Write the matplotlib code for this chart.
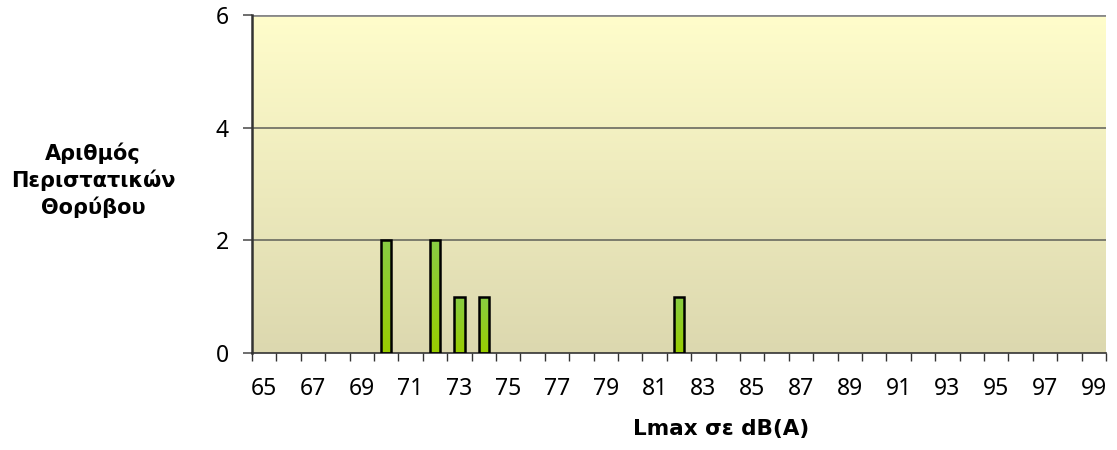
import matplotlib
matplotlib.use("Agg")
import matplotlib.pyplot as plt
import numpy as np
from matplotlib.colors import LinearSegmentedColormap

categories = list(range(65, 100))
counts_at = {70: 2, 72: 2, 73: 1, 74: 1, 82: 1}
values = [counts_at.get(c, 0) for c in categories]
xtick_labels = [str(c) for c in categories]
yticks = [0, 2, 4, 6]

plt.rcParams['font.family'] = ['DejaVu Sans']
tick_font = 'Noto Sans'

fig = plt.figure(figsize=(11.17, 4.5), dpi=100)
ax = fig.add_axes([252/1117, 1-353/450, (1106-252)/1117, (353-15)/450])

n = len(categories)
x = np.arange(n)

# background gradient
bg = LinearSegmentedColormap.from_list('bg', ['#DCD8AF', '#FFFDCB'])
grad = np.linspace(0, 1, 256).reshape(-1, 1)
ax.imshow(grad, aspect='auto', cmap=bg, origin='lower',
          extent=[-0.5, n - 0.5, 0, 6], zorder=0)

# gridlines
for yv in yticks[1:]:
    ax.axhline(yv, color='#6a6a60' if yv < 6 else '#888888',
               lw=1.2 if yv < 6 else 2.0, zorder=1)

# bars with gradient
bar_cmap = LinearSegmentedColormap.from_list('bar', ['#99CC00', '#88CC44'])
bars = ax.bar(x, values, width=0.42, color='none', edgecolor='black',
              linewidth=1.8, zorder=3)
for b, v in zip(bars, values):
    if v <= 0:
        b.set_visible(False)
        continue
    im = ax.imshow(grad, aspect='auto', cmap=bar_cmap, origin='lower',
                   extent=[b.get_x(), b.get_x() + b.get_width(), 0, v], zorder=2)
    im.set_clip_path(b)
ax.set_xlim(-0.5, n - 0.5)
ax.set_ylim(0, 6)

ax.set_yticks(yticks)
ax.set_yticklabels([str(v) for v in yticks], fontsize=16.5, family=tick_font)
ax.set_xticks(x[::2])
ax.set_xticklabels(xtick_labels[::2], fontsize=16.5, family=tick_font)
ax.set_xticks(np.arange(n + 1) - 0.5, minor=True)
ax.tick_params(axis='x', which='major', length=0, pad=17)
ax.tick_params(axis='x', which='minor', length=6, width=1, color='#333333')
ax.tick_params(axis='y', length=6.5, width=1.2, color='#555555', pad=10)

for s in ['top', 'right']:
    ax.spines[s].set_visible(False)
ax.spines['left'].set_color('#333333')
ax.spines['left'].set_linewidth(1.8)
ax.spines['bottom'].set_color('#333333')
ax.spines['bottom'].set_linewidth(1.2)

fig.text(93/1117, 1-180/450, 'Αριθμός\nΠεριστατικών\nΘορύβου', ha='center',
         va='center', fontsize=15, fontweight='bold', linespacing=1.3)
fig.text(721/1117, 1-429/450, 'Lmax σε dB(A)', ha='center', va='center',
         fontsize=15.5, fontweight='bold')

fig.savefig('out.png', dpi=100)
